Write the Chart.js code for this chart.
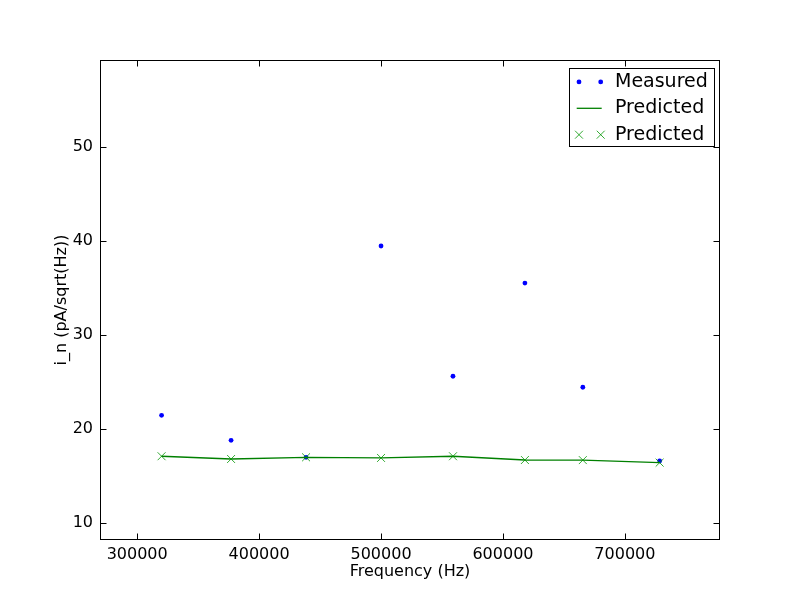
<!DOCTYPE html>
<html>
<head>
<meta charset="utf-8">
<script src="https://cdn.jsdelivr.net/npm/chart.js@4"></script>
<style>
  html, body { margin: 0; padding: 0; background: #ffffff; }
  #c { display: block; }
</style>
</head>
<body>
<canvas id="c" width="800" height="600"></canvas>
<script>
// ---- data ----
const frequencies = [320000, 377000, 438500, 500000, 559000, 618000, 665500, 728500];
const measured   = [21.49, 18.83, 17.02, 39.50, 25.64, 35.56, 24.47, 16.63];
const predicted  = [17.13, 16.84, 17.02, 16.95, 17.13, 16.73, 16.72, 16.45];
const xTicks = [300000, 400000, 500000, 600000, 700000];
const yTicks = [10, 20, 30, 40, 50];
const xRange = [269500, 778000];
const yRange = [8.22, 59.29];
const seriesLabels = ['Measured', 'Predicted', 'Predicted'];
const xTitle = 'Frequency (Hz)';
const yTitle = 'i_n (pA/sqrt(Hz))';

const FONT = 'DejaVu Sans';
const toPts = ys => frequencies.map((f, i) => ({ x: f, y: ys[i] }));

const frame = {
  id: 'frame',
  afterDatasetsDraw(chart) {
    const { ctx, chartArea: a, scales } = chart;
    ctx.save();
    ctx.strokeStyle = '#000';
    ctx.lineWidth = 1;
    const L = Math.round(a.left) + 0.5, R = Math.round(a.right) - 0.5;
    const T = Math.round(a.top) + 0.5, B = Math.round(a.bottom) - 0.5;
    ctx.strokeRect(L, T, R - L, B - T);
    const tl = 6;
    ctx.beginPath();
    scales.x.ticks.forEach(t => {
      const px = Math.round(scales.x.getPixelForValue(t.value)) + 0.5;
      ctx.moveTo(px, B); ctx.lineTo(px, B - tl);
      ctx.moveTo(px, T); ctx.lineTo(px, T + tl);
    });
    scales.y.ticks.forEach(t => {
      const py = Math.round(scales.y.getPixelForValue(t.value)) + 0.5;
      ctx.moveTo(L, py); ctx.lineTo(L + tl, py);
      ctx.moveTo(R, py); ctx.lineTo(R - tl, py);
    });
    ctx.stroke();
    ctx.restore();
  },
  afterDraw(chart) {
    // legend, matplotlib style (two markers per entry)
    const { ctx, chartArea: a } = chart;
    const ds = chart.data.datasets;
    const boxR = a.right - 6, boxT = a.top + 7.5;
    const boxW = 145, boxH = 78.4, rowH = 26.4, padT = 14.4;
    const boxL = boxR - boxW;
    ctx.save();
    ctx.fillStyle = '#fff';
    ctx.fillRect(boxL, boxT, boxW, boxH);
    ctx.strokeStyle = '#000';
    ctx.lineWidth = 1;
    ctx.strokeRect(Math.round(boxL) + 0.5, Math.round(boxT) + 0.5, Math.round(boxW), Math.round(boxH));
    const m1 = boxL + 10, m2 = boxL + 31.7, l1 = boxL + 7.7, l2 = boxL + 32.7, tx = boxL + 46;
    ds.forEach((d, i) => {
      const cy = boxT + padT + i * rowH;
      if (d.showLine) {
        ctx.strokeStyle = d.borderColor;
        ctx.lineWidth = d.borderWidth;
        ctx.beginPath(); ctx.moveTo(l1, cy); ctx.lineTo(l2, cy); ctx.stroke();
      } else if (d.pointStyle === 'circle') {
        ctx.fillStyle = d.pointBackgroundColor;
        [m1, m2].forEach(mx => { ctx.beginPath(); ctx.arc(mx, cy, d.pointRadius, 0, Math.PI * 2); ctx.fill(); });
      } else {
        ctx.strokeStyle = d.pointBorderColor;
        ctx.lineWidth = d.pointBorderWidth;
        const h = d.pointRadius * Math.SQRT1_2;
        ctx.beginPath();
        [m1, m2].forEach(mx => {
          ctx.moveTo(mx - h, cy - h); ctx.lineTo(mx + h, cy + h);
          ctx.moveTo(mx - h, cy + h); ctx.lineTo(mx + h, cy - h);
        });
        ctx.stroke();
      }
      ctx.fillStyle = '#000';
      ctx.font = '19px "' + FONT + '"';
      ctx.textBaseline = 'middle';
      ctx.textAlign = 'left';
      ctx.fillText(d.label, tx, cy);
    });
    ctx.restore();
  }
};

new Chart(document.getElementById('c'), {
  type: 'scatter',
  data: {
    datasets: [
      {
        label: seriesLabels[0],
        data: toPts(measured),
        showLine: false,
        pointStyle: 'circle',
        pointRadius: 2.4,
        pointBackgroundColor: '#0000ff',
        pointBorderColor: '#0000ff',
        pointBorderWidth: 0,
        order: 3
      },
      {
        label: seriesLabels[1],
        data: toPts(predicted),
        showLine: true,
        borderColor: '#008000',
        borderWidth: 1.3,
        pointRadius: 0,
        order: 2
      },
      {
        label: seriesLabels[2],
        data: toPts(predicted),
        showLine: false,
        pointStyle: 'crossRot',
        pointRadius: 5.6,
        pointBorderColor: 'rgba(0,150,0,0.8)',
        pointBackgroundColor: 'rgba(0,0,0,0)',
        pointBorderWidth: 1,
        order: 1
      }
    ]
  },
  options: {
    responsive: false,
    animation: false,
    devicePixelRatio: 1,
    layout: { padding: { top: 60, right: 80, left: 0, bottom: 0 } },
    plugins: { legend: { display: false }, tooltip: { enabled: false } },
    scales: {
      x: {
        type: 'linear',
        min: xRange[0], max: xRange[1],
        afterBuildTicks: s => { s.ticks = xTicks.map(v => ({ value: v })); },
        afterFit: s => { s.height = 60; },
        grid: { display: false, drawTicks: false },
        border: { display: false },
        ticks: {
          color: '#000', padding: 5,
          font: { family: FONT, size: 16 },
          callback: v => String(v)
        },
        title: {
          display: true, text: xTitle, color: '#000',
          font: { family: FONT, size: 16 },
          padding: { top: 0, bottom: 19 }
        }
      },
      y: {
        type: 'linear',
        min: yRange[0], max: yRange[1],
        afterBuildTicks: s => { s.ticks = yTicks.map(v => ({ value: v })); },
        afterFit: s => { s.width = 100; },
        grid: { display: false, drawTicks: false },
        border: { display: false },
        ticks: {
          color: '#000', padding: 7,
          font: { family: FONT, size: 16 },
          callback: v => String(v)
        },
        title: {
          display: true, text: yTitle, color: '#000',
          font: { family: FONT, size: 16 },
          padding: { top: 52, bottom: 0 }
        }
      }
    }
  },
  plugins: [frame]
});
</script>
</body>
</html>
